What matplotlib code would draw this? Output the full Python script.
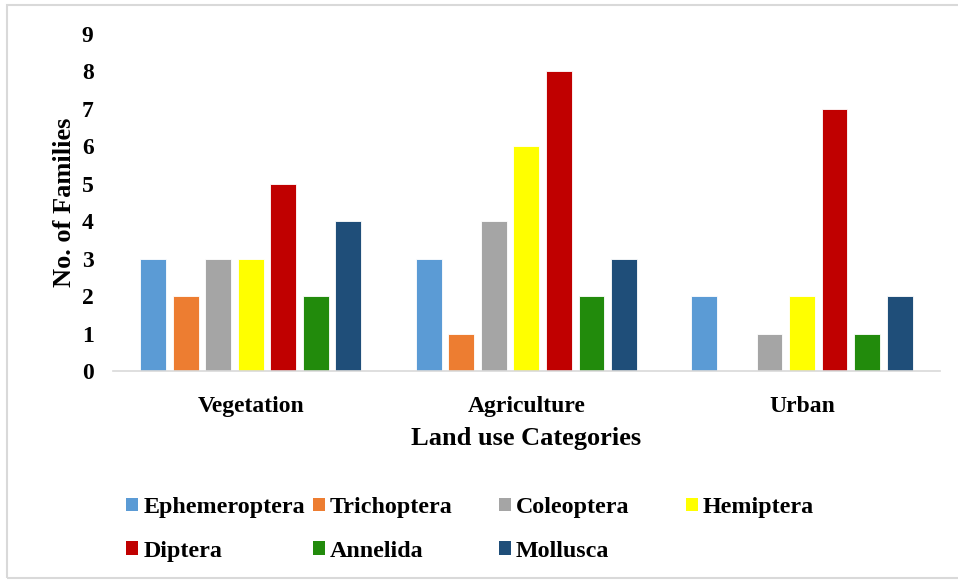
import numpy as np
import matplotlib
matplotlib.use("Agg")
import matplotlib.pyplot as plt
from matplotlib.patches import Rectangle, Patch

# Land use categories and the number of families per taxon group.
categories = ["Vegetation", "Agriculture", "Urban"]
taxa = ["Ephemeroptera", "Trichoptera", "Coleoptera", "Hemiptera",
        "Diptera", "Annelida", "Mollusca"]
ephemeroptera = [3, 3, 2]
trichoptera = [2, 1, 0]
coleoptera = [3, 4, 1]
hemiptera = [3, 6, 2]
diptera = [5, 8, 7]
annelida = [2, 2, 1]
mollusca = [4, 3, 2]
series = [ephemeroptera, trichoptera, coleoptera, hemiptera,
          diptera, annelida, mollusca]
colors = ["#5B9BD5", "#ED7D31", "#A5A5A5", "#FFFF00",
          "#C00000", "#228B0C", "#1F4E79"]

plt.rcParams["font.family"] = ["Liberation Serif", "DejaVu Serif"]
plt.rcParams["font.weight"] = "bold"

fig = plt.figure(figsize=(9.58, 5.81), dpi=100)
ax = fig.add_axes([0.118, 0.3614, 0.863, 0.5801])

x = np.arange(len(categories))
step = 0.118
width = 0.094
for i, (vals, color) in enumerate(zip(series, colors)):
    offset = (i - 3) * step
    ax.bar(x + offset, vals, width, color=color, edgecolor="white",
           linewidth=0.6, label=taxa[i])

ax.set_xlim(-0.5, 2.5)
ax.set_ylim(0, 9)
ax.set_yticks(range(0, 10))
ax.set_xticks(x)
ax.set_xticklabels(categories)
ax.tick_params(axis="both", length=0, labelsize=17)
ax.tick_params(axis="x", pad=18)
ax.tick_params(axis="y", pad=14)
for side in ["top", "right", "left"]:
    ax.spines[side].set_visible(False)
ax.spines["bottom"].set_color("#D9D9D9")
ax.spines["bottom"].set_linewidth(1.2)

ax.set_xlabel("Land use Categories", fontsize=19, fontweight="bold", labelpad=7)
ax.set_ylabel("No. of Families", fontsize=19, fontweight="bold", labelpad=4)

# Legend laid out as four equally spaced columns, like the original.
handles = [Patch(facecolor=c, edgecolor="none") for c in colors]
col_x = [0.132, 0.327, 0.521, 0.716]
for col in range(4):
    fig.legend(handles[col::4], taxa[col::4], loc="upper left",
               bbox_to_anchor=(col_x[col], 1 - 497 / 581),
               bbox_transform=fig.transFigure, frameon=False,
               fontsize=17.3, handlelength=0.5, handleheight=0.5,
               handletextpad=0.2, labelspacing=0.95,
               borderaxespad=0, borderpad=0)

# Light frame around the chart area.
fig.add_artist(Rectangle((7 / 958, 1 - 578 / 581), 1.0, (578 - 5) / 581,
                         transform=fig.transFigure, fill=False,
                         edgecolor="#D9D9D9", linewidth=1.5))

fig.savefig("out.png", dpi=100)
